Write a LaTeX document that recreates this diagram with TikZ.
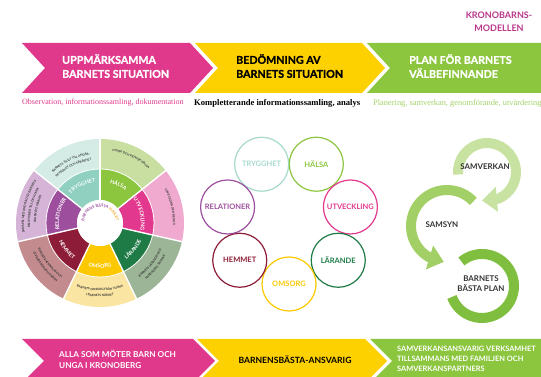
\documentclass[tikz,border=0pt]{standalone}
\usepackage{fontspec}
\setmainfont{Lato}
\newfontfamily\heavyfont{Lato Bold}[AutoFakeBold=1.2]
\newfontfamily\subserif{Liberation Serif}
\usetikzlibrary{decorations.text,arrows.meta,bending}

\definecolor{bandPink}{HTML}{E0388B}
\definecolor{bandYellow}{HTML}{FDD000}
\definecolor{bandGreen}{HTML}{8CC63F}
\definecolor{subGreen}{HTML}{A5D06A}
\definecolor{titleCol}{HTML}{B8358A}
\definecolor{halsaI}{HTML}{8CC63F}
\definecolor{halsaO}{HTML}{C9DFA2}
\definecolor{utvI}{HTML}{E2388D}
\definecolor{utvO}{HTML}{F0AACF}
\definecolor{larI}{HTML}{1E7B46}
\definecolor{larO}{HTML}{9CB597}
\definecolor{omsI}{HTML}{FCC900}
\definecolor{omsO}{HTML}{FAE5A3}
\definecolor{hemI}{HTML}{8C1C37}
\definecolor{hemO}{HTML}{C48B8F}
\definecolor{relI}{HTML}{9D4F9E}
\definecolor{relO}{HTML}{D6B4D8}
\definecolor{tryI}{HTML}{8FD0C1}
\definecolor{tryO}{HTML}{D4ECE5}
\definecolor{tryC}{HTML}{A6D9CC}
\definecolor{outTxt}{HTML}{333333}
\definecolor{planA}{HTML}{C8E2A2}
\definecolor{planB}{HTML}{A3D066}
\definecolor{planC}{HTML}{7FBE3F}
\definecolor{darkTxt}{HTML}{333333}
\definecolor{ctrPurple}{HTML}{9D4F9E}
\definecolor{ctrOrange}{HTML}{F5A623}

\newcommand\inFmt{\color{white}\fontsize{5.3}{5.3}\selectfont\bfseries}
\newcommand\outFmt{\color{outTxt}\fontsize{3}{3}\selectfont\bfseries}
% #1 radius, #2 start angle, #3 end angle, #4 format, #5 text
\newcommand\warc[5]{\path[decorate,decoration={text along path,text align=center,text={|#4|#5}}]
  ([shift={(#2:#1)}]wc) arc[start angle=#2,end angle=#3,radius=#1];}

\tikzset{
  bandtext/.style={font=\heavyfont\bfseries\fontsize{10.7}{14}\selectfont,align=left,anchor=west,inner sep=0pt},
  lowtext/.style={font=\heavyfont\fontsize{8.2}{10.5}\selectfont,align=left,anchor=west,inner sep=0pt},
  smalltext/.style={font=\heavyfont\fontsize{7.4}{9.8}\selectfont,align=left,anchor=west,inner sep=0pt},
  subtext/.style={font=\subserif\fontsize{8}{9}\selectfont,anchor=west,inner sep=0pt},
  titletext/.style={font=\heavyfont\fontsize{9}{13.5}\selectfont,align=center,text=titleCol,inner sep=0pt},
  ringcirc/.style={circle,minimum size=54pt,line width=1.2pt,inner sep=0pt,font=\heavyfont\fontsize{7.5}{8}\selectfont},
  planarrow/.style={line width=10pt,-{Triangle[width=24pt,length=15pt,flex]}},
  plantext/.style={font=\heavyfont\fontsize{7.9}{10}\selectfont,text=darkTxt,align=center,inner sep=0pt}
}

\begin{document}
\begin{tikzpicture}[x=1pt,y=1pt]
\useasboundingbox (0,0) rectangle (541,377);
\clip (0,0) rectangle (541,377);

% title
\node[titletext] (title) at (499,355) {KRONOBARNS-\\MODELLEN};

% top band
\fill[bandPink] (22,334) -- (190,334) -- (213,309) -- (190,284) -- (22,284) -- (45,309) -- cycle;
\fill[bandYellow] (195,334) -- (362,334) -- (385,309) -- (362,284) -- (195,284) -- (218,309) -- cycle;
\fill[bandGreen] (367,334) -- (545,334) -- (545,284) -- (367,284) -- (390,309) -- cycle;
\node[bandtext,text=white] (t1) at (62,311) {UPPMÄRKSAMMA\\BARNETS SITUATION};
\node[bandtext,text=black] (t2) at (236,311) {BEDÖMNING AV\\BARNETS SITUATION};
\node[bandtext,text=white] (t3) at (409,311) {PLAN FÖR BARNETS\\VÄLBEFINNANDE};

% subtitles
\node[subtext,text=bandPink] (s1) at (22,274) {Observation, informationssamling, dokumentation};
\node[subtext,text=black,font=\subserif\bfseries\fontsize{8.6}{9}\selectfont] (s2) at (194,274) {Kompletterande informationssamling, analys};
\node[subtext,text=subGreen,font=\subserif\fontsize{8.4}{9}\selectfont] (s3) at (373,274) {Planering, samverkan, genomförande, utvärdering};

% wheel
\coordinate (wc) at (100,154);
\foreach \ci/\co [count=\i from 0] in {halsaI/halsaO,utvI/utvO,larI/larO,omsI/omsO,hemI/hemO,relI/relO,tryI/tryO}{
  \pgfmathsetmacro\sa{90-\i*360/7}
  \pgfmathsetmacro\ea{\sa-360/7}
  \fill[\co] ([shift={(\sa:84)}]wc) arc[start angle=\sa,end angle=\ea,radius=84]
     -- ([shift={(\ea:54)}]wc) arc[start angle=\ea,end angle=\sa,radius=54] -- cycle;
  \fill[\ci] ([shift={(\sa:54)}]wc) arc[start angle=\sa,end angle=\ea,radius=54]
     -- ([shift={(\ea:23)}]wc) arc[start angle=\ea,end angle=\sa,radius=23] -- cycle;
}
\foreach \i in {0,...,6}{
  \pgfmathsetmacro\sa{90-\i*360/7}
  \draw[white,line width=1.4pt] ([shift={(\sa:22)}]wc) -- ([shift={(\sa:85)}]wc);
}
\draw[white,line width=0.8pt] (wc) circle[radius=54];
\fill[white] (wc) circle[radius=23];

% inner ring labels
\warc{41}{90}{38.57}{\inFmt}{HÄLSA}
\warc{41}{38.57}{-12.86}{\inFmt}{UTVECKLING}
\warc{41}{192.86}{141.43}{\inFmt}{RELATIONER}
\warc{41}{141.43}{90}{\inFmt}{TRYGGHET}
\warc{45}{-64.29}{-12.86}{\inFmt}{LÄRANDE}
\warc{45}{-115.71}{-64.29}{\inFmt}{OMSORG}
\warc{45}{-167.14}{-115.71}{\inFmt}{HEMMET}

% centre label
\path[decorate,decoration={text along path,text align=center,
  text={|\color{ctrPurple}\fontsize{3.9}{3.9}\selectfont\bfseries|BARNENS BÄSTA |\color{ctrOrange}\fontsize{3.9}{3.9}\selectfont\bfseries|HJULET}}]
  ([shift={(200:16)}]wc) arc[start angle=200,end angle=-20,radius=16];

% outer ring texts
\warc{69}{141.43}{90}{\outFmt}{BARNETS TILLIT TILL ANDRA,}
\warc{63}{141.43}{90}{\outFmt}{TRYGGHET OCH SÄKERHET}
\warc{73}{90}{38.57}{\outFmt}{FYSISK OCH PSYKISK HÄLSA}
\warc{73}{38.57}{-12.86}{\outFmt}{UTVECKLING OCH BEHOV}
\warc{76}{192.86}{141.43}{\outFmt}{SAMSPEL MED ANDRA OCH BARNETS}
\warc{70}{192.86}{141.43}{\outFmt}{RELATIONER TILL DE VUXNA}
\warc{64}{192.86}{141.43}{\outFmt}{I BARNETS NÄRHET}
\warc{67}{-64.29}{-12.86}{\outFmt}{BARNETS LÄRANDE OCH}
\warc{73}{-64.29}{-12.86}{\outFmt}{VARDAGEN I SKOLAN}
\warc{68}{-115.71}{-64.29}{\outFmt}{BARNETS OMSORG FRÅN VUXNA}
\warc{74}{-115.71}{-64.29}{\outFmt}{I BARNETS NÄRHET}
\warc{67}{-167.14}{-115.71}{\outFmt}{BARNETS HEMMILJÖ OCH}
\warc{73}{-167.14}{-115.71}{\outFmt}{LEVNADSFÖRHÅLLANDEN}

% ring of circles
\coordinate (rc) at (289,156);
\node[ringcirc,draw=tryC,text=tryC] (ctry) at ([shift={(115.71:63)}]rc) {TRYGGHET};
\node[ringcirc,draw=halsaI,text=halsaI] (chal) at ([shift={(64.29:63)}]rc) {HÄLSA};
\node[ringcirc,draw=utvI,text=utvI] (cutv) at ([shift={(12.86:63)}]rc) {UTVECKLING};
\node[ringcirc,draw=larI,text=larI] (clar) at ([shift={(-38.57:63)}]rc) {LÄRANDE};
\node[ringcirc,draw=omsI,text=omsI] (coms) at ([shift={(-90:63)}]rc) {OMSORG};
\node[ringcirc,draw=hemI,text=hemI] (chem) at ([shift={(-141.43:63)}]rc) {HEMMET};
\node[ringcirc,draw=relI,text=relI] (crel) at ([shift={(167.14:63)}]rc) {RELATIONER};

% plan arrows
\coordinate (pc) at (482,91);
\draw[planC,line width=10pt] ([shift={(130:32)}]pc) arc[start angle=130,end angle=-160,radius=32];
\coordinate (sc) at (447,151);
\draw[planB,planarrow] ([shift={(43:36)}]sc) arc[start angle=43,end angle=265,radius=36];
\coordinate (vc) at (487,205);
\draw[planA,planarrow] ([shift={(185:29)}]vc) arc[start angle=185,end angle=-100,radius=29];
\node[plantext] (pv) at (485,210) {SAMVERKAN};
\node[plantext] (ps) at (442,152) {SAMSYN};
\node[plantext] (pb) at (481,93) {BARNETS\\BÄSTA PLAN};

% bottom band
\fill[bandPink] (22,38) -- (193,38) -- (215,16) -- (193,-6) -- (22,-6) -- (44,16) -- cycle;
\fill[bandYellow] (197,38) -- (365,38) -- (387,16) -- (365,-6) -- (197,-6) -- (219,16) -- cycle;
\fill[bandGreen] (370,38) -- (545,38) -- (545,-6) -- (370,-6) -- (392,16) -- cycle;
\node[lowtext,text=white] (b1) at (59,17.5) {ALLA SOM MÖTER BARN OCH\\UNGA I KRONOBERG};
\node[lowtext,text=black,anchor=center,font=\heavyfont\fontsize{8.6}{10.5}\selectfont] (b2) at (295,17) {BARNENSBÄSTA-ANSVARIG};
\node[smalltext,text=white] (b3) at (397,18) {SAMVERKANSANSVARIG VERKSAMHET\\TILLSAMMANS MED FAMILJEN OCH\\SAMVERKANSPARTNERS};
\end{tikzpicture}
\end{document}
